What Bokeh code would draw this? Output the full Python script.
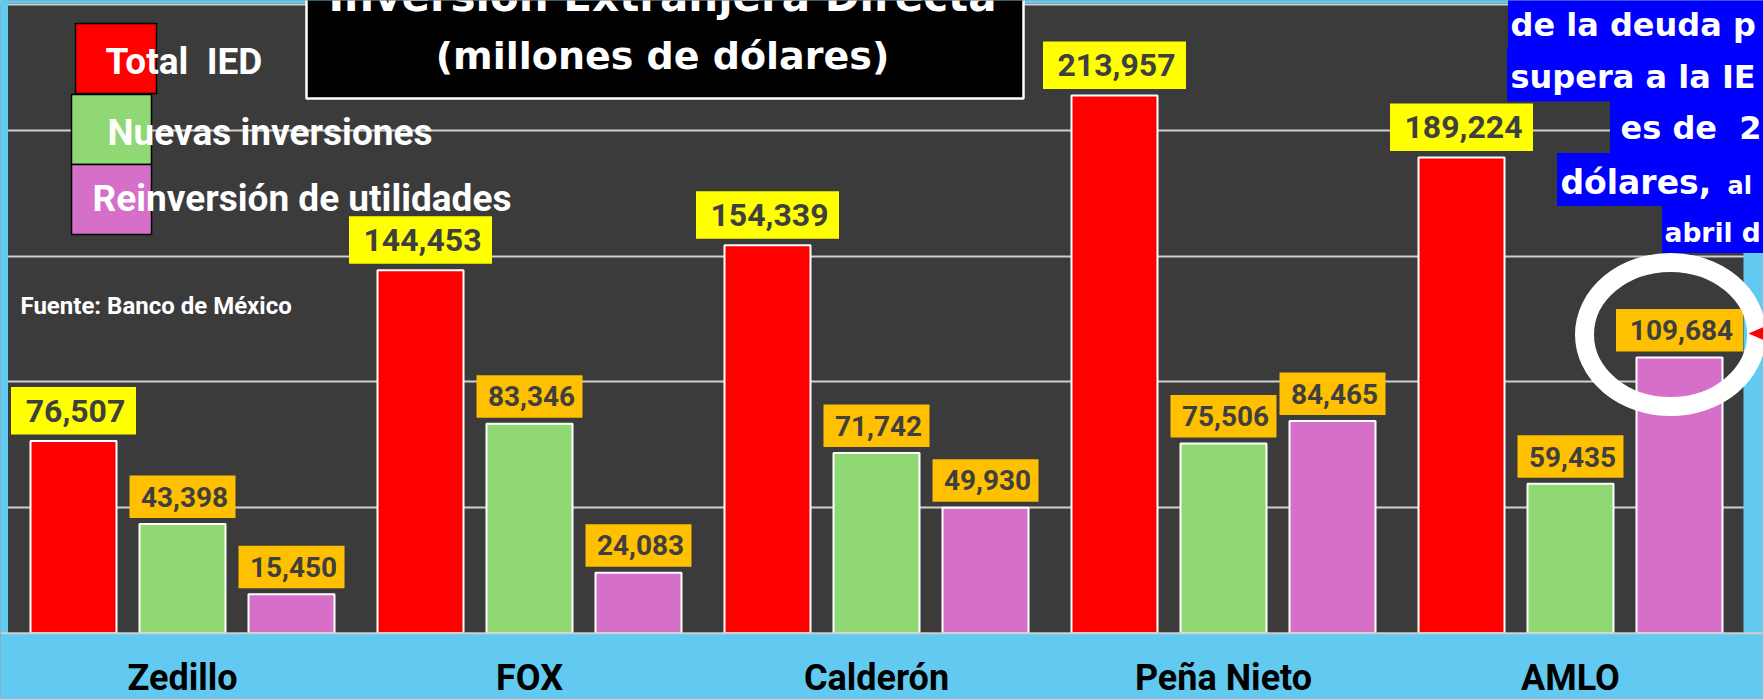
from bokeh.plotting import figure
from bokeh.models import Range1d, Grid, FixedTicker, Span
from bokeh.core.properties import value
from bokeh.embed import file_html
from bokeh.resources import INLINE

# ---------------- data ----------------
categories = ["Zedillo", "FOX", "Calderón", "Peña Nieto", "AMLO"]
total_ied = [76507, 144453, 154339, 213957, 189224]
nuevas_inversiones = [43398, 83346, 71742, 75506, 59435]
reinversion_utilidades = [15450, 24083, 49930, 84465, 109684]
series_names = ["Total  IED", "Nuevas inversiones", "Reinversión de utilidades"]
grid_ticks = [50000, 100000, 150000, 200000, 250000]
title_lines = ["Inversión Extranjera Directa", "(millones de dólares)"]
source_note = "Fuente: Banco de México"
note_lines = ["de la deuda p", "supera a la IE", "es de  2", "dólares,", "al", "abril d"]

# ---------------- layout helpers (reference pixel -> data) ----------------
W, H = 1763, 699
PX_CAT = 347.0       # pixels per category
CAT0_PX = 182.0      # screen x of first category centre
BASE_PX = 632.7      # screen y of the zero line
PX_50K = 125.67      # pixels per 50,000
UPP = 50000.0 / PX_50K  # data units per pixel


def dx(px):
    return (px - CAT0_PX) / PX_CAT


def dy(py):
    return (BASE_PX - py) * UPP


def keep_spaces(s):
    return s.replace("  ", " \u00a0")


LIGHT_BLUE = "#62C9F1"
DARK = "#3B3B3B"
GRID = "#CFCFCF"
LABEL_TXT = "#3F3F3F"

p = figure(width=W, height=H,
           x_range=Range1d(dx(0), dx(W)),
           y_range=Range1d(dy(H), dy(0)),
           x_axis_location=None, y_axis_location=None,
           toolbar_location=None, output_backend="svg",
           min_border=0, title=None,
           background_fill_color=DARK, border_fill_color=LIGHT_BLUE,
           outline_line_color=None)
p.xgrid.grid_line_color = None
p.ygrid.grid_line_color = None
p.add_layout(Grid(dimension=1, ticker=FixedTicker(ticks=grid_ticks),
                  grid_line_color=GRID, grid_line_width=2))

bar_w = 86.0 / PX_CAT
step = 109.0 / PX_CAT
idx = list(range(len(categories)))

series = [
    # values, bar colour, offset, label box colour, box h, gap, font px, box width fn
    (total_ied, "#FF0000", -step, "#FFFF00", 47.5, 6.5, 32, lambda n: 18 * n + 17),
    (nuevas_inversiones, "#8FD873", 0.0, "#FFC000", 42.5, 6.0, 28, lambda n: 21 * n - 20),
    (reinversion_utilidades, "#D56FC8", step, "#FFC000", 42.5, 6.0, 28, lambda n: 21 * n - 20),
]

for vals, col, off, *_ in series:
    xs = [i + off for i in idx]
    p.vbar(x=xs, top=vals, bottom=0, width=bar_w, fill_color=col,
           line_color="white", line_width=2)

for vals, col, off, box_col, bh, gap, fs, wfn in series:
    xs = [i + off for i in idx]
    texts = [f"{v:,}" for v in vals]
    ys = [v + (gap + bh / 2.0) * UPP for v in vals]
    p.rect(x=xs, y=ys, width=[wfn(len(t)) for t in texts], height=bh,
           width_units="screen", height_units="screen",
           fill_color=box_col, line_color=None)
    p.text(x=xs, y=ys, text=texts, x_offset=2,
           text_align="center", text_baseline="middle",
           text_font=value("Roboto"), text_font_style="bold",
           text_font_size=f"{fs}px", text_color=LABEL_TXT)

# light blue page strips: left, top, right of plot area, and bottom band
p.quad(left=[dx(-10), dx(-10), dx(1743), dx(-10)],
       right=[dx(7.5), dx(1780), dx(1780), dx(1780)],
       top=[dy(-10), dy(-10), dy(252), 0],
       bottom=[0, dy(3), 0, dy(730)],
       fill_color=LIGHT_BLUE, line_color=None)
p.add_layout(Span(location=0, dimension="width", line_color=GRID, line_width=2))

# legend
p.quad(left=[dx(75), dx(71), dx(71)], right=[dx(156), dx(151), dx(151)],
       top=[dy(23), dy(94), dy(164)], bottom=[dy(93), dy(164), dy(234)],
       fill_color=[s[1] for s in series], line_color="black", line_width=1.5)
p.text(x=[dx(105), dx(107), dx(92)], y=[dy(60.5), dy(132), dy(197.5)],
       text=[keep_spaces(s) for s in series_names],
       text_align="left", text_baseline="middle",
       text_font=value("Roboto"), text_font_style="bold",
       text_font_size="37px", text_color="white")

# title box (first line is cut by the top edge, as in the original)
p.quad(left=[dx(306)], right=[dx(1023)], top=[dy(-30)], bottom=[dy(98)],
       fill_color="black", line_color="white", line_width=2.5)
p.text(x=[dx(662)], y=[dy(-4.5)], text=[title_lines[0]],
       text_align="center", text_baseline="middle",
       text_font=value("DejaVu Sans"), text_font_style="bold",
       text_font_size="42px", text_color="white")
p.text(x=[dx(662)], y=[dy(55)], text=[title_lines[1]],
       text_align="center", text_baseline="middle",
       text_font=value("DejaVu Sans"), text_font_style="bold",
       text_font_size="38px", text_color="white")

# source
p.text(x=[dx(20)], y=[dy(305.5)], text=[source_note],
       text_align="left", text_baseline="middle",
       text_font=value("Roboto"), text_font_style="bold",
       text_font_size="24px", text_color="white")

# blue note (cut at the window edge)
p.quad(left=[dx(1508), dx(1507), dx(1610), dx(1557), dx(1662)],
       right=[dx(1780)] * 5,
       top=[dy(-20), dy(47.5), dy(100.5), dy(153), dy(205)],
       bottom=[dy(47.5), dy(100.5), dy(153), dy(205), dy(252)],
       fill_color="#0000FF", line_color="#0000FF", line_width=1)
p.text(x=[dx(1510), dx(1510), dx(1620), dx(1560), dx(1727), dx(1664)],
       y=[dy(24), dy(76), dy(127), dy(181.5), dy(185), dy(231.5)],
       text=[keep_spaces(s) for s in note_lines],
       text_align="left", text_baseline="middle",
       text_font=value("DejaVu Sans"), text_font_style="bold",
       text_font_size=["32px", "32px", "32px", "33px", "24px", "26.5px"],
       text_color="white")

# highlight ring and arrow head
p.ellipse(x=[dx(1670)], y=[dy(334)], width=[172], height=[144],
          width_units="screen", height_units="screen",
          fill_color=None, line_color="white", line_width=19)
p.patch(x=[dx(1748), dx(1780), dx(1780)], y=[dy(333), dy(319), dy(347)],
        fill_color="#FF0000", line_color=None)

# category labels
p.text(x=idx, y=[dy(677)] * len(categories), text=categories,
       text_align="center", text_baseline="middle",
       text_font=value("Roboto"), text_font_style="bold",
       text_font_size="36px", text_color="black")

open("out.html", "w").write(file_html(p, INLINE))
